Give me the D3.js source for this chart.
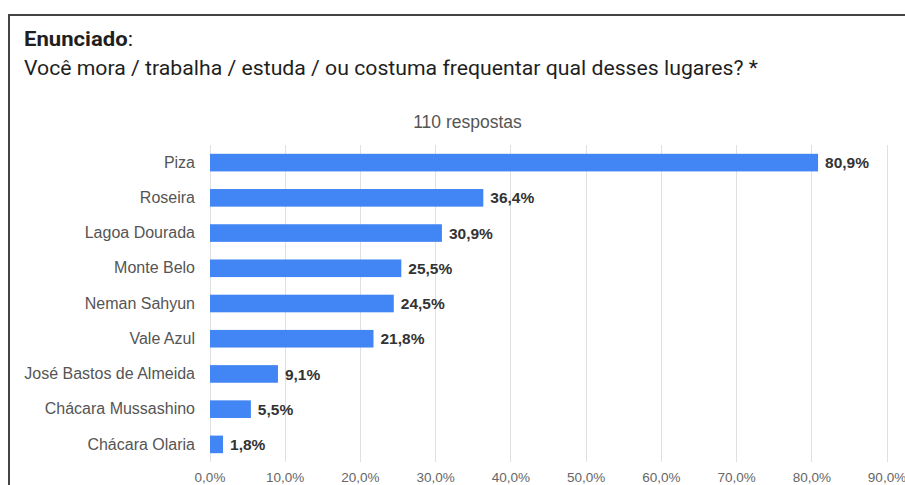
<!DOCTYPE html>
<html>
<head>
<meta charset="utf-8">
<script src="https://cdn.jsdelivr.net/npm/d3@7"></script>
<style>
  html, body { margin: 0; padding: 0; background: #ffffff; }
  svg { display: block; }
</style>
</head>
<body>
<svg id="chart" width="905" height="485"></svg>
<script>
// Survey answers: places the respondents live, work, study or visit
const categories = [
  "Piza", "Roseira", "Lagoa Dourada", "Monte Belo", "Neman Sahyun",
  "Vale Azul", "José Bastos de Almeida", "Chácara Mussashino", "Chácara Olaria"
];
const percentages = [80.9, 36.4, 30.9, 25.5, 24.5, 21.8, 9.1, 5.5, 1.8];
const tickValues = [0, 10, 20, 30, 40, 50, 60, 70, 80, 90];
const totalResponses = 110;

const headingBold = "Enunciado";
const question = "Você mora / trabalha / estuda / ou costuma frequentar qual desses lugares? *";

const rows = categories.map((c, i) => ({ name: c, value: percentages[i] }));

// Portuguese number format: comma as decimal separator
const ptBR = d3.formatLocale({ decimal: ",", thousands: ".", grouping: [3], currency: ["R$", ""] });
const fmt1 = ptBR.format(".1f");
const pct = v => fmt1(v) + "%";

const svg = d3.select("#chart");

// Card frame: top rule and left rule
svg.append("line").attr("x1", 8).attr("x2", 905).attr("y1", 15).attr("y2", 15)
  .attr("stroke", "#444").attr("stroke-width", 2);
svg.append("line").attr("x1", 9).attr("x2", 9).attr("y1", 14).attr("y2", 485)
  .attr("stroke", "#444").attr("stroke-width", 2);

// Heading
const head = svg.append("text").attr("x", 24).attr("y", 46)
  .attr("font-family", "Roboto, 'Noto Sans', sans-serif").attr("font-size", 20).attr("fill", "#1f1f1f")
  .attr("textLength", 109).attr("lengthAdjust", "spacingAndGlyphs");
head.append("tspan").attr("font-weight", "bold").text(headingBold);
head.append("tspan").text(":");

svg.append("text").attr("x", 24).attr("y", 75)
  .attr("font-family", "Roboto, 'Noto Sans', sans-serif").attr("font-size", 20).attr("fill", "#1f1f1f")
  .attr("textLength", 734).attr("lengthAdjust", "spacingAndGlyphs")
  .text(question);

// Subtitle with number of responses
svg.append("text").attr("x", 467.5).attr("y", 128).attr("text-anchor", "middle")
  .attr("font-family", "Arial, 'Liberation Sans', sans-serif").attr("font-size", 17.5).attr("fill", "#555")
  .text(totalResponses + " respostas");

// Scales
const x = d3.scaleLinear().domain([0, 90]).range([209.5, 886.5]);
const y = d3.scaleBand().domain(categories).range([145, 462]).paddingInner(0.5).paddingOuter(0.25);

// Vertical gridlines
svg.append("g").selectAll("line").data(tickValues).join("line")
  .attr("x1", d => Math.round(x(d)) + 0.5).attr("x2", d => Math.round(x(d)) + 0.5)
  .attr("y1", 145).attr("y2", 462)
  .attr("stroke", "#e0e0e0").attr("stroke-width", 1);

// Bottom axis labels
const xAxis = d3.axisBottom(x).tickValues(tickValues).tickSize(0).tickPadding(0).tickFormat(pct);
const gx = svg.append("g").attr("transform", "translate(0,472)").call(xAxis);
gx.select(".domain").remove();
gx.selectAll("text")
  .attr("font-family", "Arial, 'Liberation Sans', sans-serif").attr("font-size", 13.5)
  .attr("fill", "#666").attr("dy", "0.71em");

// Category labels
const yAxis = d3.axisLeft(y).tickSize(0).tickPadding(0);
const gy = svg.append("g").attr("transform", "translate(195,0)").call(yAxis);
gy.select(".domain").remove();
gy.selectAll("text")
  .attr("font-family", "Arial, 'Liberation Sans', sans-serif").attr("font-size", 16)
  .attr("fill", "#555");

// Bars
svg.append("g").selectAll("rect").data(rows).join("rect")
  .attr("x", x(0) + 0.5)
  .attr("y", d => y(d.name))
  .attr("width", d => x(d.value) - x(0) - 0.5)
  .attr("height", y.bandwidth())
  .attr("fill", "#4285f4");

// Value labels
svg.append("g").selectAll("text").data(rows).join("text")
  .attr("x", d => x(d.value) + 7)
  .attr("y", d => y(d.name) + y.bandwidth() / 2)
  .attr("dy", "0.36em")
  .attr("font-family", "Arial, 'Liberation Sans', sans-serif").attr("font-size", 15.5)
  .attr("font-weight", "bold").attr("fill", "#333")
  .text(d => pct(d.value));
</script>
</body>
</html>
